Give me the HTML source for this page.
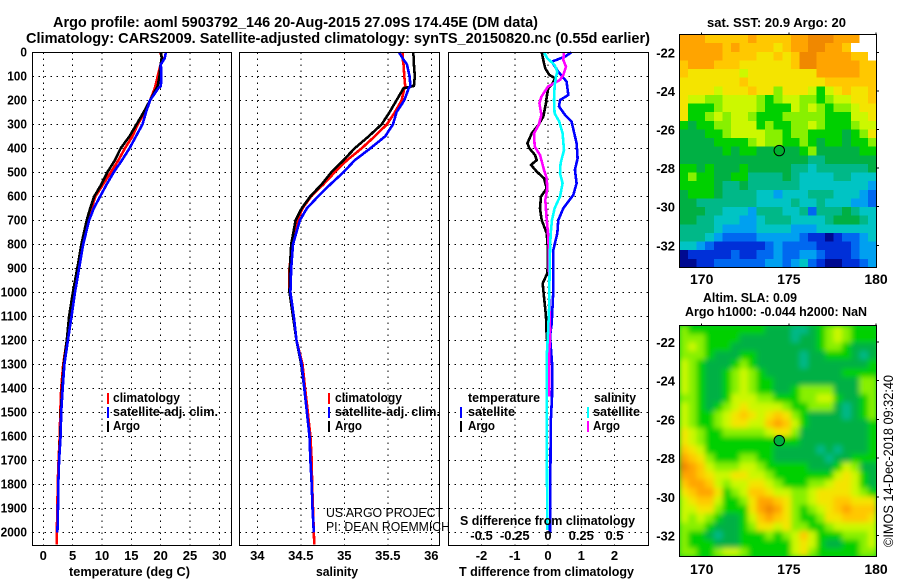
<!DOCTYPE html>
<html>
<head>
<meta charset="utf-8">
<title>Argo profile comparison</title>
<style>
html,body{margin:0;padding:0;background:#fff;width:900px;height:580px;overflow:hidden}
svg{display:block;font-family:"Liberation Sans",sans-serif}
text{fill:#000}
.b{font-weight:bold}
</style>
</head>
<body>
<svg id="chart" width="900" height="580" viewBox="0 0 900 580" xmlns="http://www.w3.org/2000/svg">
<defs>
<filter id="soft" x="-5%" y="-5%" width="110%" height="110%"><feGaussianBlur stdDeviation="2.6"/></filter>
<clipPath id="clipSla"><rect x="679.5" y="325.5" width="197" height="231"/></clipPath>
<clipPath id="clipSst"><rect x="679.5" y="34.5" width="197" height="233"/></clipPath>
</defs>
<text class="b" x="53" y="27" font-size="15" textLength="485" lengthAdjust="spacingAndGlyphs">Argo profile: aoml 5903792_146 20-Aug-2015 27.09S 174.45E (DM data)</text>
<text class="b" x="26" y="43" font-size="15" textLength="624" lengthAdjust="spacingAndGlyphs">Climatology: CARS2009. Satellite-adjusted climatology: synTS_20150820.nc (0.55d earlier)</text>
<g id="grids"></g>
<g id="lines"></g>
<g id="frames"></g>
<g id="ticks"></g>

<text class="b" x="69" y="576" font-size="13" textLength="121" lengthAdjust="spacingAndGlyphs">temperature (deg C)</text>
<text class="b" x="316" y="576" font-size="13" textLength="42" lengthAdjust="spacingAndGlyphs">salinity</text>
<text class="b" x="459" y="576" font-size="13" textLength="175" lengthAdjust="spacingAndGlyphs">T difference from climatology</text>
<text class="b" x="460" y="525" font-size="13" textLength="175" lengthAdjust="spacingAndGlyphs">S difference from climatology</text>

<g>
<rect x="107" y="393" width="2" height="11" fill="#f00"/>
<text class="b" x="113" y="402" font-size="13" textLength="67" lengthAdjust="spacingAndGlyphs">climatology</text>
<rect x="107" y="407" width="2" height="11" fill="#00f"/>
<text class="b" x="113" y="416" font-size="13" textLength="105" lengthAdjust="spacingAndGlyphs">satellite-adj. clim.</text>
<rect x="107" y="421" width="2" height="11" fill="#000"/>
<text class="b" x="113" y="430" font-size="13" textLength="27" lengthAdjust="spacingAndGlyphs">Argo</text>
</g>
<g>
<rect x="328" y="393" width="2" height="11" fill="#f00"/>
<text class="b" x="335" y="402" font-size="13" textLength="67" lengthAdjust="spacingAndGlyphs">climatology</text>
<rect x="328" y="407" width="2" height="11" fill="#00f"/>
<text class="b" x="335" y="416" font-size="13" textLength="105" lengthAdjust="spacingAndGlyphs">satellite-adj. clim.</text>
<rect x="328" y="421" width="2" height="11" fill="#000"/>
<text class="b" x="335" y="430" font-size="13" textLength="27" lengthAdjust="spacingAndGlyphs">Argo</text>
</g>
<g>
<text class="b" x="468" y="402" font-size="13" textLength="72" lengthAdjust="spacingAndGlyphs">temperature</text>
<rect x="460" y="407" width="2" height="11" fill="#00f"/>
<text class="b" x="468" y="416" font-size="13" textLength="47" lengthAdjust="spacingAndGlyphs">satellite</text>
<rect x="460" y="421" width="2" height="11" fill="#000"/>
<text class="b" x="468" y="430" font-size="13" textLength="27" lengthAdjust="spacingAndGlyphs">Argo</text>
<text class="b" x="594" y="402" font-size="13" textLength="42" lengthAdjust="spacingAndGlyphs">salinity</text>
<rect x="587" y="407" width="2" height="11" fill="#0ff"/>
<text class="b" x="593" y="416" font-size="13" textLength="47" lengthAdjust="spacingAndGlyphs">satellite</text>
<rect x="587" y="421" width="2" height="11" fill="#f0f"/>
<text class="b" x="593" y="430" font-size="13" textLength="27" lengthAdjust="spacingAndGlyphs">Argo</text>
</g>

<text x="326" y="517" font-size="13" textLength="117" lengthAdjust="spacingAndGlyphs">US ARGO PROJECT</text>
<text x="326" y="531" font-size="13" textLength="124" lengthAdjust="spacingAndGlyphs">PI: DEAN ROEMMICH</text>

<text class="b" x="707" y="27" font-size="13" textLength="139" lengthAdjust="spacingAndGlyphs">sat. SST: 20.9 Argo: 20</text>
<text class="b" x="703" y="302" font-size="13" textLength="94" lengthAdjust="spacingAndGlyphs">Altim. SLA: 0.09</text>
<text class="b" x="685" y="316" font-size="13" textLength="182" lengthAdjust="spacingAndGlyphs">Argo h1000: -0.044 h2000: NaN</text>

<g id="sstMap" clip-path="url(#clipSst)"></g>
<rect x="679.5" y="325.5" width="197" height="231" fill="#00c830"/>
<g clip-path="url(#clipSla)"><g id="slaMap" filter="url(#soft)"></g></g>
<g id="mapOverlay"></g>

<text font-size="14" transform="translate(893,547) rotate(-90)" textLength="172" lengthAdjust="spacingAndGlyphs">©IMOS 14-Dec-2018 09:32:40</text>
</svg>
<script>
// ---- profile data ----
const depthTicks = [0,100,200,300,400,500,600,700,800,900,1000,1100,1200,1300,1400,1500,1600,1700,1800,1900,2000];
const tempTicks = [0,5,10,15,20,25,30];
const salTicks = [34,34.5,35,35.5,36];
const salTickLabels = ['34','34.5','35','35.5','36'];
const tDiffTicks = [-2,-1,0,1,2];
const sDiffTicks = [-0.5,-0.25,0,0.25,0.5];
const sDiffTickLabels = ['-0.5','-0.25','0','0.25','0.5'];

const profileDepths = [0,25,50,100,140,150,200,250,300,350,400,450,500,550,600,650,700,800,900,1000,1100,1200,1300,1400,1500,1600,1700,1800,1900,2000];
const tempClim = [19.9,20.3,20.0,19.5,19.1,19.0,18.2,17.3,16.1,15.2,13.9,12.8,11.5,10.2,8.9,8.2,7.6,6.6,5.9,5.2,4.7,4.0,3.4,3.05,2.9,2.8,2.6,2.45,2.4,2.3];
const tempArgo = [20.05,20.2,20.0,19.8,19.5,19.3,18.2,17.1,15.9,14.7,13.2,12.2,10.9,9.9,8.7,8.0,7.4,6.5,5.8,5.05,4.4,4.0,3.5,3.2,3.0,2.9,2.7,2.55,2.5,2.4];
const tempSat = [20.9,20.7,20.05,20.1,20.05,19.6,18.2,17.5,16.9,15.8,14.7,13.4,12.0,10.8,9.7,8.6,7.8,6.8,6.1,5.4,4.8,4.2,3.6,3.3,3.05,2.95,2.7,2.55,2.5,2.4];
const salClim = [35.67,35.67,35.68,35.69,35.70,35.69,35.66,35.58,35.49,35.35,35.20,35.03,34.89,34.76,34.62,34.52,34.46,34.40,34.37,34.37,34.42,34.45,34.52,34.55,34.58,34.61,34.625,34.63,34.64,34.65];
const salArgo = [35.79,35.80,35.80,35.81,35.80,35.68,35.60,35.52,35.43,35.28,35.12,34.99,34.85,34.74,34.61,34.51,34.44,34.39,34.375,34.37,34.41,34.45,34.505,34.54,34.57,34.60,34.61,34.625,34.635,34.65];
const salSat = [35.63,35.67,35.72,35.75,35.76,35.74,35.69,35.60,35.56,35.47,35.30,35.12,34.99,34.84,34.70,34.57,34.49,34.41,34.39,34.38,34.42,34.45,34.51,34.54,34.57,34.60,34.61,34.625,34.635,34.65];
const deepDepth = 2050;
const tempClimDeep = 2.3;
const salClimDeep = 34.655;

const tDiffArgoDepths = [0,46,67,94,108,136,150,185,212,268,303,338,379,400,428,449,469,497,525,567,601,650,699,754,810,893,921,963,990,1101,1185,1254,1435];
const tDiffArgo = [-0.19,-0.12,-0.08,0.04,0.21,0.11,0.01,-0.04,-0.06,-0.14,-0.29,-0.49,-0.62,-0.56,-0.39,-0.34,-0.51,-0.34,-0.12,-0.04,-0.21,-0.24,-0.19,-0.04,-0.01,-0.01,-0.02,-0.16,-0.14,-0.06,-0.04,0.03,0.03];
const tDiffSatDepths = [0,18,39,81,122,178,199,226,261,289,338,379,442,490,546,594,650,699,754,824,990,1046,1129,1185,1310,1435,1546,1824,2000];
const tDiffSat = [0.71,0.51,0.11,0.31,0.56,0.61,0.36,0.33,0.51,0.71,0.79,0.86,0.89,0.81,0.86,0.76,0.46,0.31,0.28,0.16,0.16,0.14,0.11,0.06,0.13,0.12,0.08,0.07,0.06];
const sDiffArgoDepths = [0,32,60,94,115,143,185,212,261,303,338,393,428,449,490,525,567,615,699,754,810,990,1157,1254,1435];
const sDiffArgo = [0.12,0.115,0.135,0.115,0.09,0,-0.05,-0.065,-0.05,-0.07,-0.105,-0.10,-0.06,-0.05,-0.03,-0.01,-0.005,-0.02,-0.01,0,0.005,0.01,0.015,0.01,0.01];
const sDiffSatDepths = [0,25,53,81,101,143,199,254,289,338,407,463,504,546,601,650,699,754,824,990,1046,1171,1254,1546,1990];
const sDiffSat = [-0.03,-0.005,0.05,0.07,0.06,0.05,0.045,0.05,0.085,0.11,0.12,0.095,0.09,0.11,0.09,0.05,0.03,0.02,0.015,0.01,0.01,0,-0.008,-0.01,-0.005];

// ---- map data: one hex-like level per cell (0 = coldest / lowest, d = highest, w = no data) ----
const lonTicks = [170,175,180];
const latTicks = [-22,-24,-26,-28,-30,-32];
const argoLon = 174.45;
const argoLat = -27.09;
const sstRows = [
'cccbbbbbcbbbbccdddcccww',
'cccccbcbbbbabccddccbwww',
'cccccbbbbaababddccccbbw',
'bcccbbbaaaaaabddcccccbb',
'baaaaaa9aaaaaaaacccccbb',
'aaaaaaabaaaaaaaaabbbbbb',
'aaaa9aaabaa8aaa979abaab',
'a9988999987899887899aab',
'a77789999877798987889aa',
'a778989987778888877799a',
'76778899978778898777899',
'66677899998878877776 78a'.replace(' ',''),
'66667777898877876776778',
'66666767766766786666677',
'66666666666666655666666',
'77676667666665545555556',
'78776677555565444455444',
'77776556555555444444443',
'67776555544344455544432',
'66555555544445445444332',
'66655444355544525556544',
'66554443345554444566654',
'55554333344443334444444',
'55543222233333211012234',
'44321111112322221111233',
'01111121122322332111233',
'00112222223323421001123'
];
const slaRows = [
'87777777776665567898777',
'88877776666665667898777',
'89877766666666667887666',
'88876667766666566777656',
'98766678766666566666667',
'98766789876666666667777',
'98766789877666666666688',
'98766789877667888866688',
'88766799988777889976678',
'9876789a999987788865678',
'987789aba9aba8766665678',
'987789aa99bcb9766666667',
'a9877888889aa8666666667',
'a9877777777777666666667',
'ba97777777766666565666 7'.replace(' ',''),
'cba87778877666666566777',
'dcb98889987777766679866',
'ccba99aa99877777779a976',
'bccb9899aa98777889aa976',
'abcca789bba99889aaaa987',
'9abb9778accba889aabbaaa',
'99aa8777acdca8789abcbbb',
'989876679bcba8778aabbba',
'888766678aa9a8877899999',
'87765667778789b97778889',
'87776667777779a97667789',
'88778998777779a87777788'
];

// ---- scales ----
const SVGNS = 'http://www.w3.org/2000/svg';
const yDepth = d => 52.3 + d * 0.24;
const xTemp = v => 43.3 + v * 5.867;
const xSal = v => 257.3 + (v - 34) * 87;
const xTDiff = v => 548 + v * 33.25;
const xSDiff = v => 548 + v * 133;
const xLon = v => 701.7 + (v - 170) * 17.43;
const ySstLat = v => 52.3 + (-22 - v) * 19.3;
const ySlaLat = v => 342 + (-22 - v) * 19.36;
const palette = {'0':'#000a90','1':'#0030d8','2':'#0068f0','3':'#00a0f0','4':'#00c4c4','5':'#00b888','6':'#00b044','7':'#00d000','8':'#88f000','9':'#ccf800','a':'#f4e400','b':'#ffc800','c':'#ffa400','d':'#f08800','w':'#ffffff'};

function make(tag, parent, attrs){
  const el = document.createElementNS(SVGNS, tag);
  for (const k in attrs) el.setAttribute(k, attrs[k]);
  parent.appendChild(el);
  return el;
}

// ---- panels ----
const panels = [
  {name:'temperature', x0:32.5, x1:231.5, xs:tempTicks.map(xTemp)},
  {name:'salinity', x0:239.5, x1:439.5, xs:salTicks.map(xSal)},
  {name:'difference', x0:448.5, x1:648.5, xs:tDiffTicks.map(xTDiff)}
];
const grids = document.getElementById('grids');
const frames = document.getElementById('frames');
const ticks = document.getElementById('ticks');
panels.forEach(p => {
  depthTicks.forEach(d => {
    const l = make('line', grids, {x1:p.x0, x2:p.x1, y1:yDepth(d), y2:yDepth(d), stroke:'#000', 'stroke-width':1, 'stroke-dasharray':'1.5 4.5', 'shape-rendering':'crispEdges'});
    
    
  });
  p.xs.forEach(x => {
    const l = make('line', grids, {x1:x, x2:x, y1:52.5, y2:545.5, stroke:'#000', 'stroke-width':1, 'stroke-dasharray':'1.5 4.5', 'shape-rendering':'crispEdges'});
    
    
  });
  const r = make('rect', frames, {x:p.x0, y:52.5, width:p.x1 - p.x0, height:493, fill:'none', stroke:'#000', 'stroke-width':1, 'shape-rendering':'crispEdges'});
  
  
});

function tick(x, y, s, anchor, len){
  const attrs = {x:x, y:y, 'font-size':13, 'text-anchor':anchor, class:'b'};
  if (len) { attrs.textLength = len; attrs.lengthAdjust = 'spacingAndGlyphs'; }
  const t = make('text', ticks, attrs);
  t.textContent = s;
  return t;
}
depthTicks.forEach(d => {
  const t = tick(27, yDepth(d) + 4, String(d), 'end', String(d).length * 6.6);
  
  
});
tempTicks.forEach(v => {
  const t = tick(xTemp(v), 560, String(v), 'middle');
  
  
});
salTicks.forEach((v, i) => {
  const t = tick(xSal(v), 560, salTickLabels[i], 'middle');
  
  
});
tDiffTicks.forEach(v => {
  const t = tick(xTDiff(v), 560, String(v), 'middle');
  
  
});
sDiffTicks.forEach((v, i) => {
  const t = tick(xSDiff(v), 540, sDiffTickLabels[i], 'middle');
  
  
});

// ---- series ----
const linesG = document.getElementById('lines');
function series(name, xs, depths, values, colour, width){
  const pts = values.map((v, i) => xs(v).toFixed(1) + ',' + yDepth(depths[i]).toFixed(1)).join(' ');
  const el = make('polyline', linesG, {points:pts, fill:'none', stroke:colour, 'stroke-width':width, 'stroke-linejoin':'round', 'shape-rendering':'crispEdges'});
  
  
}
series('temperature-climatology-line', xTemp, profileDepths.concat([deepDepth]), tempClim.concat([tempClimDeep]), '#f00', 2.6);
series('temperature-argo-line', xTemp, profileDepths, tempArgo, '#000', 2.6);
series('temperature-satellite-line', xTemp, profileDepths, tempSat, '#00f', 2.6);
series('salinity-climatology-line', xSal, profileDepths.concat([deepDepth]), salClim.concat([salClimDeep]), '#f00', 2.6);
series('salinity-argo-line', xSal, profileDepths, salArgo, '#000', 2.6);
series('salinity-satellite-line', xSal, profileDepths, salSat, '#00f', 2.6);
series('t-difference-satellite-line', xTDiff, tDiffSatDepths, tDiffSat, '#00f', 2.6);
series('t-difference-argo-line', xTDiff, tDiffArgoDepths, tDiffArgo, '#000', 2.6);
series('s-difference-argo-line', xSDiff, sDiffArgoDepths, sDiffArgo, '#f0f', 2.6);
series('s-difference-satellite-line', xSDiff, sDiffSatDepths, sDiffSat, '#0ff', 2.6);

// ---- maps ----
function drawMap(rows, parent, x0, y0, w, h, name){
  const cw = w / 23, ch = h / rows.length;
  rows.forEach((row, r) => {
    for (let c = 0; c < 23; c++) {
      const level = row[c] || '7';
      const cell = make('rect', parent, {x:x0 + c * cw, y:y0 + r * ch, width:cw + 0.6, height:ch + 0.6, fill:palette[level], 'shape-rendering':'crispEdges'});
      
      
    }
  });
}
drawMap(sstRows, document.getElementById('sstMap'), 679.5, 34.5, 197, 233, 'sst-cell');
drawMap(slaRows, document.getElementById('slaMap'), 679.5, 325.5, 197, 231, 'sla-cell');

const overlay = document.getElementById('mapOverlay');
const mapDefs = [
  {name:'sst', top:34.5, h:233, yLat:ySstLat, labelY:284, fill:'#00b030'},
  {name:'sla', top:325.5, h:231, yLat:ySlaLat, labelY:574, fill:'#00b040'}
];
mapDefs.forEach(m => {
  const fr = make('rect', overlay, {x:679.5, y:m.top, width:197, height:m.h, fill:'none', stroke:'#000', 'stroke-width':1, 'shape-rendering':'crispEdges'});
  
  
  lonTicks.forEach(v => {
    const tk = make('line', overlay, {x1:xLon(v), x2:xLon(v), y1:m.top - 2, y2:m.top, stroke:'#000', 'shape-rendering':'crispEdges'});
    
    
    const t = make('text', overlay, {x:xLon(v), y:m.labelY, 'font-size':14, 'text-anchor':'middle', class:'b'});
    t.textContent = String(v);
    
    
  });
  latTicks.forEach(v => {
    const tk = make('line', overlay, {x1:876.5, x2:879, y1:m.yLat(v), y2:m.yLat(v), stroke:'#000', 'shape-rendering':'crispEdges'});
    
    
    const t = make('text', overlay, {x:675, y:m.yLat(v) + 5, 'font-size':13, 'text-anchor':'end', class:'b'});
    t.textContent = String(v);
    
    
  });
  const c = make('circle', overlay, {cx:xLon(argoLon), cy:m.yLat(argoLat), r:5.2, fill:m.fill, stroke:'#000', 'stroke-width':1});
  
  
});
</script>
</body>
</html>
